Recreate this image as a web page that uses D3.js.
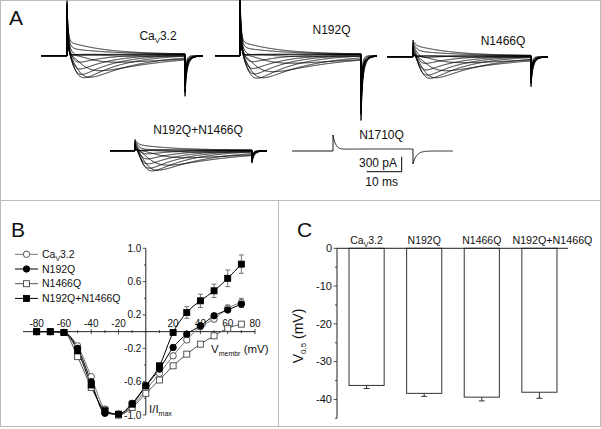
<!DOCTYPE html>
<html><head><meta charset="utf-8">
<script src="https://cdn.jsdelivr.net/npm/d3@7"></script>
<style>
body{margin:0;background:#fff}
svg{display:block}
text{font-family:"Liberation Sans",Arial,Helvetica,sans-serif;fill:#111}
</style>
</head><body>
<svg id="fig" width="601" height="429"></svg>
<script>
// ================= DATA =================
// Panel A: current traces (step protocol), one trace per test voltage
const traceV      = [-70,-60,-50,-40,-30,-20,-10,0,10,20,30,40];
const tauAct      = [12,8,5,3.2,2.2,1.6,1.3,1.1,1.0,0.9,0.8,0.7];        // ms
const tauInact    = [80,50,30,20,14,11,10,9.5,9,9,9,9];                // ms
const activation  = [0.01,0.05,0.2,0.45,0.75,0.9,0.97,1,1,1,1,1];
const outwardInit = [0,0,0,0,0,20,60,100,150,200,250,300];             // pA
const peakCaV32   = [10,40,160,330,460,480,440,360,260,160,80,20];      // pA (inward)
const peakN192Q   = [10,50,180,350,470,490,430,350,250,150,70,20];
const peakN1466Q  = [10,30,140,300,440,460,420,340,240,150,70,20];
const peakDouble  = [10,40,150,300,400,420,380,310,230,150,80,30];
const peakN1710Q  = [0];
const scaleBarPA  = 300, scaleBarMs = 10;

// Panel B: normalized I-V relationships
const ivVoltages = [-80,-70,-60,-50,-40,-30,-20,-10,0,10,20,30,40,50,60,70];
const ivCaV32  = [0,0,-0.01,-0.17,-0.54,-0.93,-1.0,-0.89,-0.70,-0.50,-0.29,-0.10,0.06,0.15,0.28,0.35];
const ivN192Q  = [0,0,-0.01,-0.20,-0.60,-0.98,-0.99,-0.86,-0.65,-0.45,-0.19,-0.03,0.07,0.19,0.26,0.33];
const ivN1466Q = [0,0,-0.01,-0.30,-0.67,-0.94,-1.0,-0.91,-0.74,-0.58,-0.41,-0.27,-0.15,-0.05,0.04,0.09];
const ivDouble = [0,0,-0.01,-0.23,-0.64,-0.95,-0.99,-0.87,-0.65,-0.41,-0.01,0.23,0.37,0.49,0.64,0.81];
const errCaV32  = [0,0,0,0.02,0.02,0.02,0.01,0.02,0.02,0.02,0.03,0.03,0.03,0.03,0.04,0.05];
const errN192Q  = [0,0,0,0.02,0.02,0.02,0.01,0.02,0.02,0.02,0.03,0.03,0.03,0.03,0.03,0.04];
const errN1466Q = [0,0,0,0.02,0.02,0.02,0.01,0.02,0.02,0.02,0.02,0.02,0.02,0.02,0.02,0.02];
const errDouble = [0,0,0,0.02,0.02,0.02,0.01,0.02,0.02,0.03,0.02,0.07,0.08,0.08,0.10,0.11];
const ivXTicks = [-80,-60,-40,-20,20,40,60,80];
const ivYTicks = [-1.0,-0.6,-0.2,0.2,0.6,1.0];

// Panel C: V0.5 of activation
const barCategories = ["CaV3.2","N192Q","N1466Q","N192Q+N1466Q"];
const barValues     = [-36.3,-38.4,-39.4,-38.1];
const barErrors     = [0.8,0.8,1.0,1.6];
const barYTicks     = [0,-10,-20,-30,-40];

// ================= DRAWING =================
const svg = d3.select("#fig");
const grey = "#bdbdbd";
svg.append("rect").attr("x",0.5).attr("y",0.5).attr("width",600).attr("height",426)
  .attr("fill","none").attr("stroke",grey);
svg.append("line").attr("x1",0).attr("x2",601).attr("y1",200.5).attr("y2",200.5).attr("stroke",grey);
svg.append("line").attr("x1",278.5).attr("x2",278.5).attr("y1",200.5).attr("y2",426.5).attr("stroke",grey);

function letter(t,x,y){ svg.append("text").attr("x",x).attr("y",y).attr("font-size",21).text(t); }
letter("A",9,25); letter("B",11,237); letter("C",297,237);

function caLabel(sel, size){
  sel.append("tspan").text("Ca");
  sel.append("tspan").attr("font-size",size*0.65).attr("dy",size*0.3).text("V");
  sel.append("tspan").attr("dy",-size*0.3).text("3.2");
}
function nameLabel(sel, name, size){
  if(name==="CaV3.2") caLabel(sel,size); else sel.text(name);
}

// ================= PANEL A =================
const pxPerMs = 3.5, pxPerPA = 1/20;
const families = [
  {name:"CaV3.2", peaks:peakCaV32, x0:41, on:67, off:185, end:203, base:55.7, cap:800, capTau:0.3, out:1.0, leak:30, capDown:480, tail:420, lx:158, ly:39.5},
  {name:"N192Q", peaks:peakN192Q, x0:215, on:240, off:361, end:377, base:55.7, cap:950, capTau:0.3, out:1.0, leak:30, capDown:850, tail:600, lx:331.5, ly:33.5},
  {name:"N1466Q", peaks:peakN1466Q, x0:387, on:413, off:531, end:548, base:56.7, cap:80, capTau:0.4, out:0.85, leak:20, capDown:330, tail:330, lx:503, ly:45},
  {name:"N192Q+N1466Q", peaks:peakDouble, x0:110, on:135, off:252, end:267, base:150.7, cap:60, capTau:0.4, out:0.55, leak:10, capDown:120, tail:150, lx:198, ly:133.5},
  {name:"N1710Q", peaks:peakN1710Q, x0:292, on:333, off:413, end:453, base:151, cap:320, capTau:0.8, out:0, leak:40, capDown:260, tail:0, lx:381.5, ly:139}
];

const gA = svg.append("g");
families.forEach(f=>{
  const D = (f.off-f.on)/pxPerMs;
  const x = d3.scaleLinear().domain([0,D]).range([f.on,f.off]);
  const y = d3.scaleLinear().domain([0,-300]).range([f.base,f.base+300*pxPerPA]);
  const tStart = x.invert(f.x0), tEnd = x.invert(f.end);
  const single = f.peaks.length===1;
  const n = f.peaks.length;
  const w = d3.range(n).map(i=> activation[i]*Math.exp(-D/tauInact[i]));
  const wmax = d3.max(w);
  const line = d3.line().x(d=>x(d[0])).y(d=>y(d[1]));
  for(let i=0;i<n;i++){
    const amp = f.peaks[i];
    const ta = tauAct[i], th = tauInact[i];
    const kin = t => Math.pow(1-Math.exp(-t/ta),3)*Math.exp(-t/th);
    let kmax = 0; for(let t=0;t<=D;t+=0.05) kmax=Math.max(kmax,kin(t));
    const out = single ? 0 : f.out*outwardInit[i];
    const tailA = single ? 0 : f.tail*w[i]/wmax;
    const tt = 0.7+0.1*i;
    const cd = f.capDown*(single?1:(0.75+0.25*i/(n-1)));
    const pts = [[tStart,0],[0,0]];
    for(let t=0;t<=D+1e-9;t+=0.05){
      const I = f.cap*Math.exp(-t/f.capTau) + out*Math.exp(-t/10) + f.leak*(1-Math.exp(-t/2))
              - (amp? amp*kin(t)/kmax : 0);
      pts.push([t,I]);
    }
    for(let t=D;t<=tEnd+1e-9;t+=0.05){
      const s=t-D;
      const I = -cd*Math.exp(-s/(single?1.0:0.35)) - tailA*Math.exp(-s/tt);
      pts.push([t,I]);
    }
    gA.append("path").attr("d",line(pts)).attr("fill","none")
      .attr("stroke","#000").attr("stroke-width",0.9);
  }
  const t = gA.append("text").attr("x",f.lx).attr("y",f.ly).attr("text-anchor","middle").attr("font-size",12);
  nameLabel(t,f.name,12);
});
// scale bar
{
  const sx = d3.scaleLinear().domain([0,scaleBarMs]).range([366.7,401.7]);
  const sy = d3.scaleLinear().domain([0,scaleBarPA]).range([171.7,171.7-scaleBarPA*pxPerPA]);
  gA.append("path").attr("d",`M${sx(0)},${sy(0)}H${sx(scaleBarMs)}V${sy(scaleBarPA)}`)
    .attr("fill","none").attr("stroke","#000").attr("stroke-width",1);
  gA.append("text").attr("x",397).attr("y",167).attr("text-anchor","end").attr("font-size",12).text(scaleBarPA+" pA");
  gA.append("text").attr("x",381.7).attr("y",186).attr("text-anchor","middle").attr("font-size",12).text(scaleBarMs+" ms");
}

// ================= PANEL B =================
const xB = d3.scaleLinear().domain([-90,80]).range([23,255]);
const yB = d3.scaleLinear().domain([-1,1]).range([415,248.3]);
const gB = svg.append("g");
const axisCol = "#222";
gB.append("line").attr("x1",xB(-90)).attr("x2",xB(80)).attr("y1",yB(0)).attr("y2",yB(0)).attr("stroke",axisCol);
d3.range(-80,81,10).forEach(v=>{
  if(v===0) return;
  const major = v%20===0;
  gB.append("line").attr("x1",xB(v)).attr("x2",xB(v)).attr("y1",yB(0)-(major?2.5:1.5)).attr("y2",yB(0)+(major?2.5:1.5)).attr("stroke",axisCol).attr("stroke-width",0.8);
});
ivXTicks.forEach(v=>{
  gB.append("text").attr("x",xB(v)).attr("y",yB(0)-4.5).attr("text-anchor","middle").attr("font-size",10).text(v);
});
gB.append("line").attr("x1",xB(0)).attr("x2",xB(0)).attr("y1",yB(1)).attr("y2",yB(-1)).attr("stroke",axisCol);
d3.range(-10,11,2).forEach(k=>{
  const v=k/10; const major = Math.abs(k)%4===2;
  gB.append("line").attr("x1",xB(0)-(major?3:1.8)).attr("x2",xB(0)).attr("y1",yB(v)).attr("y2",yB(v)).attr("stroke",axisCol).attr("stroke-width",0.8);
});
ivYTicks.forEach(v=>{
  gB.append("text").attr("x",xB(0)-4.5).attr("y",yB(v)).attr("dy","0.35em").attr("text-anchor","end").attr("font-size",10).text(v.toFixed(1));
});
{
  const t = gB.append("text").attr("x",211).attr("y",353).attr("font-size",11.5);
  t.append("tspan").text("V");
  t.append("tspan").attr("font-size",7).attr("dy",3).text("membr");
  t.append("tspan").attr("dy",-3).text(" (mV)");
  const u = gB.append("text").attr("x",149).attr("y",413).attr("font-size",11.5);
  u.append("tspan").text("I/I");
  u.append("tspan").attr("font-size",7).attr("dy",3).text("max");
}
const ivSeries = [
  {name:"CaV3.2", vals:ivCaV32, err:errCaV32, shape:"circle", fill:"#fff", line:"#777", stroke:"#444"},
  {name:"N192Q", vals:ivN192Q, err:errN192Q, shape:"circle", fill:"#000", line:"#000", stroke:"#000"},
  {name:"N1466Q", vals:ivN1466Q, err:errN1466Q, shape:"square", fill:"#fff", line:"#555", stroke:"#444"},
  {name:"N192Q+N1466Q", vals:ivDouble, err:errDouble, shape:"square", fill:"#000", line:"#000", stroke:"#000"}
];
const lineB = d3.line().x(d=>xB(d[0])).y(d=>yB(d[1])).curve(d3.curveMonotoneX);
function marker(g, s, cx, cy){
  if(s.shape==="circle") g.append("circle").attr("cx",cx).attr("cy",cy).attr("r",3.2)
      .attr("fill",s.fill).attr("stroke",s.stroke).attr("stroke-width",0.9);
  else g.append("rect").attr("x",cx-3).attr("y",cy-3).attr("width",6).attr("height",6)
      .attr("fill",s.fill).attr("stroke",s.stroke).attr("stroke-width",0.9);
}
ivSeries.forEach(s=>{
  const data = ivVoltages.map((v,i)=>[v,s.vals[i]]);
  gB.append("path").attr("d",lineB(data)).attr("fill","none").attr("stroke",s.line).attr("stroke-width",1);
});
ivSeries.forEach(s=>{
  ivVoltages.forEach((v,i)=>{
    const e = s.err[i];
    if(e>0.015){
      const cx=xB(v), y1=yB(s.vals[i]+e), y2=yB(s.vals[i]-e);
      gB.append("path").attr("d",`M${cx},${y1}V${y2}M${cx-2.5},${y1}H${cx+2.5}M${cx-2.5},${y2}H${cx+2.5}`)
        .attr("stroke","#555").attr("stroke-width",0.8).attr("fill","none");
    }
  });
});
ivSeries.forEach(s=>{ ivVoltages.forEach((v,i)=> marker(gB,s,xB(v),yB(s.vals[i]))); });
ivSeries.forEach((s,i)=>{
  const yy = 254.3 + i*14.7;
  gB.append("line").attr("x1",15).attr("x2",38).attr("y1",yy).attr("y2",yy).attr("stroke",s.line).attr("stroke-width",1);
  marker(gB,s,26.5,yy);
  const t = gB.append("text").attr("x",42).attr("y",yy).attr("dy","0.36em").attr("font-size",10.5);
  nameLabel(t,s.name,10.5);
});

// ================= PANEL C =================
const yC = d3.scaleLinear().domain([-45,0]).range([418.3,248.3]);
const xC = d3.scaleBand().domain(barCategories).range([337,568]).paddingInner(0.39).paddingOuter(0.2);
const gC = svg.append("g");
barCategories.forEach((c,i)=>{
  gC.append("rect").attr("x",xC(c)+0.5).attr("y",yC(0)).attr("width",xC.bandwidth())
    .attr("height",yC(barValues[i])-yC(0)).attr("fill","#fff").attr("stroke","#333").attr("stroke-width",1);
  const cx = xC(c)+xC.bandwidth()/2+0.5, yb=yC(barValues[i]), ye=yC(barValues[i]-barErrors[i]);
  gC.append("path").attr("d",`M${cx},${yb}V${ye}M${cx-3},${ye}H${cx+3}`).attr("stroke","#333").attr("fill","none").attr("stroke-width",1);
  const long = c.length>8;
  const t = gC.append("text").attr("x",cx+(long?13:0)).attr("y",243.5).attr("text-anchor","middle")
    .attr("font-size",10.5);
  if(long) t.attr("textLength",80).attr("lengthAdjust","spacingAndGlyphs");
  nameLabel(t,c,10.5);
});
gC.append("line").attr("x1",337).attr("x2",568).attr("y1",yC(0)).attr("y2",yC(0)).attr("stroke","#222");
gC.append("line").attr("x1",337).attr("x2",337).attr("y1",yC(0)).attr("y2",yC(-45)).attr("stroke","#222");
d3.range(0,-46,-5).forEach(v=>{
  const major = v%10===0;
  gC.append("line").attr("x1",337-(major?3.5:2)).attr("x2",337).attr("y1",yC(v)).attr("y2",yC(v)).attr("stroke","#222").attr("stroke-width",0.8);
});
barYTicks.forEach(v=>{
  gC.append("text").attr("x",332).attr("y",yC(v)).attr("dy","0.35em").attr("text-anchor","end").attr("font-size",11).text(v);
});
{
  const t = gC.append("text").attr("transform","translate(303,336) rotate(-90)").attr("text-anchor","middle").attr("font-size",14);
  t.append("tspan").text("V");
  t.append("tspan").attr("font-size",8).attr("dy",3).text("0.5");
  t.append("tspan").attr("dy",-3).text(" (mV)");
}
</script>
</body></html>
